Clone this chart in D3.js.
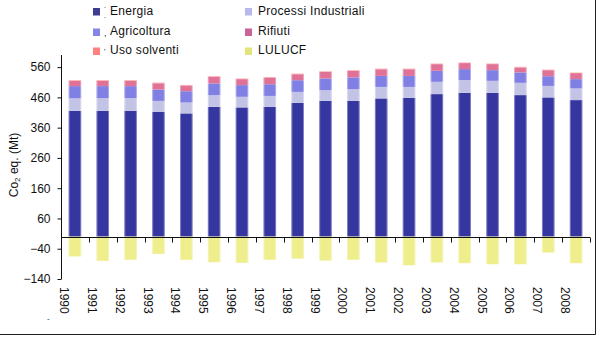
<!DOCTYPE html>
<html>
<head>
<meta charset="utf-8">
<title>Emissioni CO2 eq per settore</title>
<script src="https://cdn.jsdelivr.net/npm/d3@7/dist/d3.min.js"></script>
<style>
    body {margin: 0; background: #fff;}
    svg {display: block; font-family: "Liberation Sans", Arial, sans-serif;}
    .axis text {font-size: 12px; fill: #111;}
    .axis path, .axis line {stroke: #111;}
</style>
</head>
<body>
<div id="container"></div>
<script>
// emissioni per settore, Mt CO2 eq
const years = ["1990","1991","1992","1993","1994","1995","1996","1997","1998","1999",
               "2000","2001","2002","2003","2004","2005","2006","2007","2008"];
const energia     = [415.6, 415.6, 415.6, 412.4, 407.1, 428.8, 426.9, 428.8, 442.1, 448.7,
                     448.7, 456.6, 458.6, 470.8, 475.1, 475.1, 467.5, 459.9, 451.0];
const processi    = [41.0, 42.0, 42.0, 36.0, 36.0, 38.6, 35.0, 36.0, 36.0, 35.0,
                     38.6, 38.0, 36.0, 40.6, 42.0, 39.6, 40.6, 38.0, 38.6];
const agricoltura = [40.6, 39.6, 39.6, 37.6, 37.3, 38.6, 38.6, 38.6, 38.6, 38.6,
                     38.6, 36.3, 36.3, 36.3, 36.3, 35.3, 34.3, 32.0, 30.7];
const rifiuti     = [17.5, 17.5, 17.5, 20.5, 18.5, 21.7, 19.7, 21.7, 19.7, 21.7,
                     21.7, 22.0, 22.0, 22.0, 19.8, 19.8, 16.5, 19.8, 19.8];
const solventi    = [2.4, 2.4, 2.3, 2.3, 2.3, 2.3, 2.3, 2.3, 2.3, 2.3,
                     2.3, 2.2, 2.2, 2.2, 2.2, 2.2, 2.1, 2.1, 2.0];
const lulucf      = [-66, -80.5, -77, -57.4, -77, -85, -87, -77, -73, -79.5,
                     -77, -86, -95, -86, -88, -91.5, -91.5, -53, -88];
const yTicks = d3.range(-140, 561, 100);

const w = 605;
const h = 343;

const series = [
    {key: "energia",     name: "Energia",              values: energia,     fill: "#3636a0", swatch: "#3d3d92"},
    {key: "processi",    name: "Processi Industriali", values: processi,    fill: "#c3c3e6", swatch: "#b8b8ee"},
    {key: "agricoltura", name: "Agricoltura",          values: agricoltura, fill: "#7f7fe4", swatch: "#8585e8"},
    {key: "rifiuti",     name: "Rifiuti",              values: rifiuti,     fill: "#e07298", swatch: "#c8649a"},
    {key: "solventi",    name: "Uso solventi",         values: solventi,    fill: "#ff8a8a", swatch: "#ff8080"},
    {key: "lulucf",      name: "LULUCF",               values: lulucf,      fill: "#eeee8c", swatch: "#e4e47a"}
];

const rows = years.map((yr, i) => {
    const r = {year: yr};
    series.forEach(s => { r[s.key] = s.values[i]; });
    return r;
});

const svg = d3.select('#container')
    .append('svg')
    .attr('width', w)
    .attr('height', h);

svg.append('rect').attr('width', w).attr('height', h).attr('fill', '#fff');

const x = d3.scaleBand()
    .domain(years)
    .range([61, 590])
    .paddingInner(0.55)
    .paddingOuter(0.275);

const y = d3.scaleLinear()
    .domain([-140, 600])
    .range([279, 55]);

// positive sectors stacked, LULUCF hangs below zero
const stacked = d3.stack()
    .keys(["energia", "processi", "agricoltura", "rifiuti", "solventi"])(rows);

const colorOf = {};
series.forEach(s => { colorOf[s.key] = s; });

const total = d => d.energia + d.processi + d.agricoltura + d.rifiuti + d.solventi;

const bars = svg.append('g').attr('class', 'bars');

stacked.forEach(layer => {
    bars.append('g')
        .attr('fill', colorOf[layer.key].fill)
        .selectAll('rect')
        .data(layer)
        .join('rect')
        .attr('x', d => x(d.data.year))
        .attr('width', x.bandwidth())
        .attr('y', d => y(d[1]))
        .attr('height', d => y(d[0]) - y(d[1]));
});

bars.append('g')
    .attr('fill', colorOf.lulucf.fill)
    .selectAll('rect')
    .data(rows)
    .join('rect')
    .attr('x', d => x(d.year))
    .attr('width', x.bandwidth())
    .attr('y', y(0))
    .attr('height', d => y(d.lulucf) - y(0));

// soft light edge on each column
bars.append('g')
    .selectAll('rect')
    .data(rows)
    .join('rect')
    .attr('x', d => x(d.year) + 0.5)
    .attr('width', x.bandwidth() - 1)
    .attr('y', d => y(total(d)))
    .attr('height', d => y(d.lulucf) - y(total(d)))
    .attr('fill', 'none')
    .attr('stroke', 'rgba(255,255,255,0.35)')
    .attr('stroke-width', 1);

// y axis
svg.append('g')
    .attr('class', 'axis')
    .attr('transform', 'translate(61.5,0)')
    .call(d3.axisLeft(y).tickValues(yTicks).tickSize(4).tickSizeOuter(0).tickPadding(7))
    .call(g => g.select('.domain').attr('d', `M0,${y(600)}V${y(-140)}`));

// x axis at zero
const y0 = Math.round(y(0)) + 0.5;
const xAxis = svg.append('g').attr('class', 'axis');
xAxis.append('line')
    .attr('x1', 61).attr('x2', 590)
    .attr('y1', y0).attr('y2', y0);
xAxis.selectAll('line.tick')
    .data(d3.range(1, years.length + 1))
    .join('line')
    .attr('class', 'tick')
    .attr('x1', i => Math.round(x.range()[0] + i * x.step()) + 0.5)
    .attr('x2', i => Math.round(x.range()[0] + i * x.step()) + 0.5)
    .attr('y1', y0).attr('y2', y0 + 5)
    .attr('stroke', '#444');

xAxis.selectAll('text')
    .data(years)
    .join('text')
    .attr('transform', (d, i) => `translate(${x.range()[0] + i * x.step() + 3},287) rotate(90)`)
    .attr('dominant-baseline', 'central')
    .attr('text-anchor', 'start')
    .text(d => d);

// y axis title
const ytitle = svg.append('text')
    .attr('transform', 'translate(14,165) rotate(-90)')
    .attr('text-anchor', 'middle')
    .attr('dominant-baseline', 'central')
    .attr('font-size', 12)
    .attr('fill', '#111');
ytitle.append('tspan').text('Co');
ytitle.append('tspan').attr('font-size', 8).attr('dy', 3).text('2');
ytitle.append('tspan').attr('dy', -3).text(' eq. (Mt)');

// legend, two columns
const legend = svg.append('g').attr('class', 'legend')
    .attr('font-size', 12).attr('letter-spacing', 0.3).attr('fill', '#111');
const legendPos = [[93, 8], [245, 8], [93, 28.5], [245, 28.5], [93, 47.5], [245, 47.5]];
const legendOrder = ["energia", "processi", "agricoltura", "rifiuti", "solventi", "lulucf"];
legendOrder.forEach((k, i) => {
    const [lx, ly] = legendPos[i];
    const item = legend.append('g').attr('transform', `translate(${lx},${ly})`);
    item.append('rect')
        .attr('width', 7).attr('height', 7.5)
        .attr('fill', colorOf[k].swatch);
    item.append('text')
        .attr('x', i % 2 === 0 ? 17 : 13)
        .attr('y', 6.5)
        .text(colorOf[k].name);
});
// stray marks next to the first column
legend.append('text').attr('x', 104).attr('y', 8).attr('font-size', 7).text('.');
legend.append('text').attr('x', 104).attr('y', 18).attr('font-size', 7).text('.');
legend.append('text').attr('x', 104).attr('y', 36).attr('font-size', 9).text(',');
legend.append('text').attr('x', 104).attr('y', 54).attr('font-size', 8).text("'");
svg.append('text').attr('x', 47).attr('y', 321).attr('font-size', 8).attr('fill', '#333').text('-');

// frame
svg.append('path')
    .attr('d', 'M595.5,0V334.5H0')
    .attr('fill', 'none')
    .attr('stroke', '#222');
</script>
</body>
</html>
